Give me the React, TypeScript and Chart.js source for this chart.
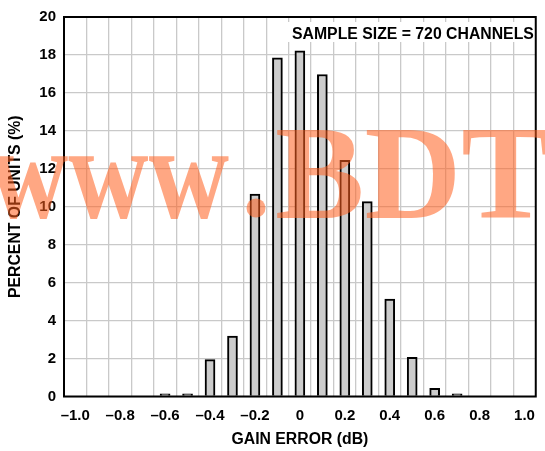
import React, { useEffect, useRef } from "react";
import { Chart, registerables } from "chart.js";

Chart.register(...registerables);

// ---- data ----
const GAIN_ERROR_DB = [-0.6, -0.5, -0.4, -0.3, -0.2, -0.1, 0, 0.1, 0.2, 0.3, 0.4, 0.5, 0.6, 0.7];
const PERCENT_OF_UNITS = [0.14, 0.14, 1.94, 3.19, 10.67, 17.85, 18.22, 16.97, 12.45, 10.27, 5.13, 2.06, 0.43, 0.14];

const X_TICK_VALUES = [-1.0, -0.8, -0.6, -0.4, -0.2, 0, 0.2, 0.4, 0.6, 0.8, 1.0];
const X_TICK_LABELS = ["–1.0", "–0.8", "–0.6", "–0.4", "–0.2", "0", "0.2", "0.4", "0.6", "0.8", "1.0"];
const X_GRID_VALUES = [-0.95, -0.85, -0.75, -0.65, -0.55, -0.45, -0.35, -0.25, -0.15, -0.05, 0.05, 0.15, 0.25, 0.35, 0.45, 0.55, 0.65, 0.75, 0.85, 0.95];
const Y_MIN = 0;
const Y_MAX = 20;
const Y_STEP = 2;

const ANNOTATION = "SAMPLE SIZE = 720 CHANNELS";
const X_TITLE = "GAIN ERROR (dB)";
const Y_TITLE = "PERCENT OF UNITS (%)";
const WATERMARK_A = "www";
const WATERMARK_B = "BDT";

const FONT = '"Liberation Sans", Arial, sans-serif';
const GRID_COLOR = "#c9c9c9";

const near = (a: number, b: number) => Math.abs(a - b) < 1e-9;

export default function App() {
  const ref = useRef<HTMLCanvasElement | null>(null);

  useEffect(() => {
    document.body.style.margin = "0";
    const canvas = ref.current;
    if (!canvas) return;

    const framePlugin = {
      id: "frameAndNotes",
      beforeDatasetsDraw(chart: any) {
        const { ctx, chartArea } = chart;
        ctx.save();
        ctx.fillStyle = "#ffffff";
        ctx.fillRect(287, chartArea.top + 5, chartArea.right - 287, 20);
        ctx.fillStyle = "#000";
        ctx.font = `bold 15.8px ${FONT}`;
        ctx.textAlign = "left";
        ctx.textBaseline = "middle";
        ctx.fillText(ANNOTATION, 292, chartArea.top + 17.5);
        ctx.restore();
      },
      afterDatasetsDraw(chart: any) {
        const { ctx, chartArea } = chart;
        ctx.save();
        ctx.strokeStyle = "#000";
        ctx.lineWidth = 2;
        ctx.strokeRect(chartArea.left, chartArea.top, chartArea.right - chartArea.left, chartArea.bottom - chartArea.top);
        ctx.restore();
      },
      afterDraw(chart: any) {
        const { ctx } = chart;
        ctx.save();
        ctx.fillStyle = "rgba(255, 95, 30, 0.55)";
        ctx.textBaseline = "alphabetic";
        ctx.textAlign = "left";
        ctx.font = 'bold 134px "Liberation Serif", "Times New Roman", serif';
        ctx.save();
        ctx.translate(-12, 218);
        ctx.scale(0.83, 1);
        ctx.fillText(WATERMARK_A, 0, 0);
        ctx.restore();
        ctx.beginPath();
        ctx.arc(256, 208, 9.5, 0, Math.PI * 2);
        ctx.fill();
        ctx.fillText(WATERMARK_B, 275, 218);
        ctx.restore();
      },
    };

    const chart = new Chart(canvas, {
      type: "bar",
      data: {
        datasets: [
          {
            data: GAIN_ERROR_DB.map((x, i) => ({ x, y: PERCENT_OF_UNITS[i] })),
            backgroundColor: "#cccccc",
            borderColor: "#000000",
            borderWidth: 2,
            barThickness: 10,
          },
        ],
      },
      options: {
        animation: false,
        responsive: false,
        events: [],
        layout: { padding: { top: 13, right: 2, left: 0, bottom: 0 } },
        plugins: { legend: { display: false }, tooltip: { enabled: false } },
        scales: {
          x: {
            type: "linear",
            min: -1.05,
            max: 1.05,
            offset: false,
            afterBuildTicks: (scale: any) => {
              scale.ticks = [...X_TICK_VALUES, ...X_GRID_VALUES]
                .slice()
                .sort((a, b) => a - b)
                .map((v) => ({ value: v }));
            },
            afterFit: (scale: any) => {
              scale.height = 54.5;
            },
            grid: {
              offset: false,
              drawTicks: false,
              lineWidth: 1.3,
              color: (ctx: any) =>
                ctx.tick && X_GRID_VALUES.some((v) => near(v, ctx.tick.value)) ? GRID_COLOR : "rgba(0,0,0,0)",
            },
            border: { display: false },
            ticks: {
              autoSkip: false,
              maxRotation: 0,
              minRotation: 0,
              padding: 10,
              color: "#000",
              font: { family: FONT, size: 15, weight: "bold" },
              callback: (value: any) => {
                const i = X_TICK_VALUES.findIndex((v) => near(v, Number(value)));
                return i >= 0 ? X_TICK_LABELS[i] : "";
              },
            },
            title: {
              display: true,
              text: X_TITLE,
              color: "#000",
              font: { family: FONT, size: 15.8, weight: "bold" },
              padding: { top: 0, bottom: 2 },
            },
          },
          y: {
            type: "linear",
            min: Y_MIN,
            max: Y_MAX,
            afterFit: (scale: any) => {
              scale.width = 64;
            },
            grid: { drawTicks: false, color: GRID_COLOR, lineWidth: 1.3 },
            border: { display: false },
            ticks: {
              stepSize: Y_STEP,
              padding: 8,
              color: "#000",
              font: { family: FONT, size: 15, weight: "bold" },
            },
            title: {
              display: true,
              text: Y_TITLE,
              color: "#000",
              font: { family: FONT, size: 15.8, weight: "bold" },
              padding: { top: 6, bottom: 0 },
            },
          },
        },
      },
      plugins: [framePlugin],
    } as any);

    return () => chart.destroy();
  }, []);

  return (
    <div style={{ width: 545, height: 451 }}>
      <canvas ref={ref} width={545} height={451} style={{ display: "block" }} />
    </div>
  );
}
